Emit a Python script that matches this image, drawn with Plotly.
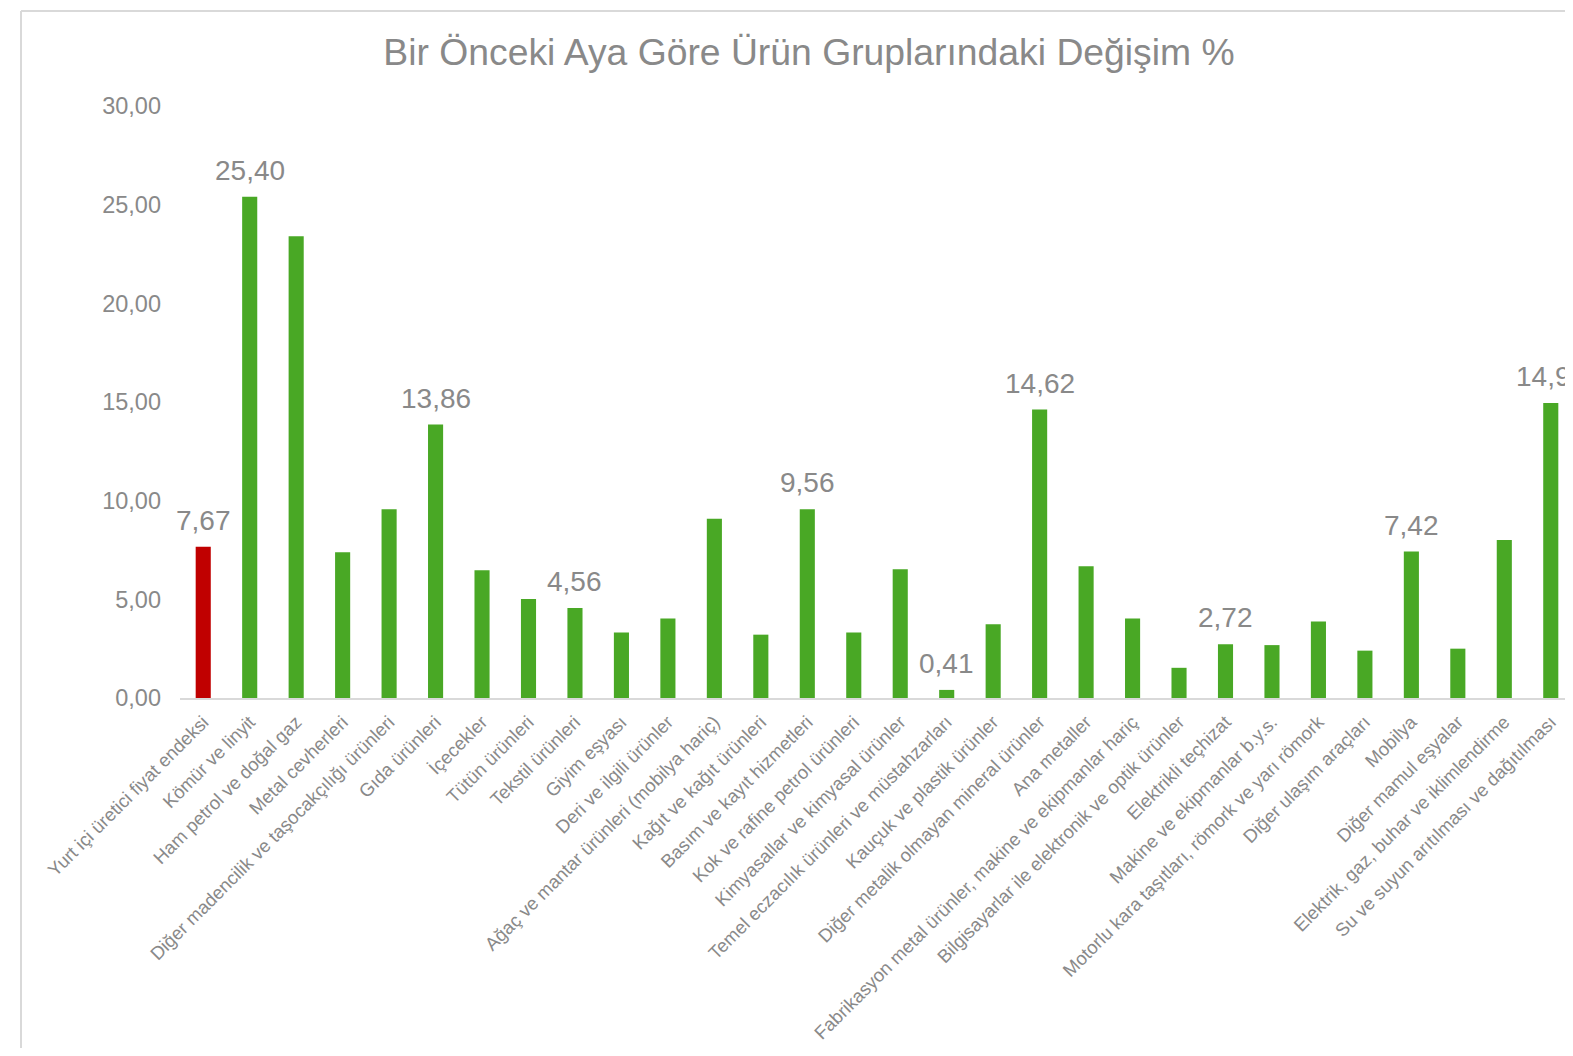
import plotly.graph_objects as go

# Ürün grupları ve bir önceki aya göre değişim (%)
categories = [
    "Yurt içi üretici fiyat endeksi", "Kömür ve linyit", "Ham petrol ve doğal gaz",
    "Metal cevherleri", "Diğer madencilik ve taşocakçılığı ürünleri", "Gıda ürünleri",
    "İçecekler", "Tütün ürünleri", "Tekstil ürünleri", "Giyim eşyası",
    "Deri ve ilgili ürünler", "Ağaç ve mantar ürünleri (mobilya hariç)",
    "Kağıt ve kağıt ürünleri", "Basım ve kayıt hizmetleri", "Kok ve rafine petrol ürünleri",
    "Kimyasallar ve kimyasal ürünler", "Temel eczacılık ürünleri ve müstahzarları",
    "Kauçuk ve plastik ürünler", "Diğer metalik olmayan mineral ürünler", "Ana metaller",
    "Fabrikasyon metal ürünler, makine ve ekipmanlar hariç",
    "Bilgisayarlar ile elektronik ve optik ürünler", "Elektrikli teçhizat",
    "Makine ve ekipmanlar b.y.s.", "Motorlu kara taşıtları, römork ve yarı römork",
    "Diğer ulaşım araçları", "Mobilya", "Diğer mamul eşyalar",
    "Elektrik, gaz, buhar ve iklimlendirme", "Su ve suyun arıtılması ve dağıtılması",
]
values = [
    7.67, 25.40, 23.40, 7.39, 9.57, 13.86, 6.48, 5.02, 4.56, 3.32,
    4.03, 9.08, 3.21, 9.56, 3.32, 6.53, 0.41, 3.74, 14.62, 6.68,
    4.03, 1.53, 2.72, 2.68, 3.88, 2.40, 7.42, 2.50, 8.01, 14.95,
]
# hangi çubukların üzerinde değer yazıyor
labelled = [
    True, True, False, False, False, True, False, False, True, False,
    False, False, False, True, False, False, True, False, True, False,
    False, False, True, False, False, False, True, False, False, True,
]

RED = "#C00000"
GREEN = "#49A825"
GREY = "#898989"
FONT = "Liberation Sans, Arial, sans-serif"

colors = [RED] + [GREEN] * (len(values) - 1)

fig = go.Figure(go.Bar(
    x=categories, y=values,
    marker=dict(color=colors, line=dict(width=0)),
    hoverinfo="x+y",
))

# veri etiketleri
for c, v, show in zip(categories, values, labelled):
    if show:
        fig.add_annotation(
            x=c, y=v, text=f"{v:.2f}".replace(".", ","),
            showarrow=False, yanchor="bottom", yshift=9,
            font=dict(family=FONT, size=28, color=GREY),
        )

# sayfanın 8 px gövde boşluğu var, koordinatlar ona göre;
# grafik sağda pencereden taşıyor (referansta da kesik)
W, H = 1573, 1040
L, R, T, B = 172, 7, 98, 690
fig.update_layout(
    width=W, height=H, autosize=False,
    margin=dict(l=L, r=R, t=T, b=H - B, autoexpand=False),
    paper_bgcolor="white", plot_bgcolor="white",
    separators=",.",
    bargap=0.675,
    showlegend=False,
    font=dict(family=FONT, color=GREY),
    title=dict(
        text="Bir Önceki Aya Göre Ürün Gruplarındaki Değişim %",
        x=801 / W, xanchor="center", xref="container",
        y=1 - 44 / H, yanchor="middle", yref="container",
        font=dict(family=FONT, size=37.3, color=GREY),
    ),
    xaxis=dict(
        range=[-0.5, len(categories) - 0.5],
        tickangle=-45, tickfont=dict(size=18.5, color=GREY),
        showline=True, linecolor="#D9D9D9", linewidth=2,
        showgrid=False, ticks="", ticklabelstandoff=4,
        automargin=False,
    ),
    yaxis=dict(
        range=[0, 30], dtick=5, tickformat=".2f",
        tickfont=dict(size=23.5, color=GREY),
        showgrid=False, zeroline=False, showline=False,
        ticklabelstandoff=18, automargin=False,
    ),
)

# dış çerçeve (sol ve üst kenar)
pw = W - L - R
fx = (13 - L) / pw
fy_top = (B - 3) / (B - T)
fig.add_shape(type="line", xref="paper", yref="paper",
              x0=fx, x1=fx, y0=(B - H) / (B - T), y1=fy_top,
              line=dict(color="#D9D9D9", width=2))
fig.add_shape(type="line", xref="paper", yref="paper",
              x0=fx, x1=(W - L) / pw, y0=fy_top, y1=fy_top,
              line=dict(color="#D9D9D9", width=2))

fig.write_html("out.html")
